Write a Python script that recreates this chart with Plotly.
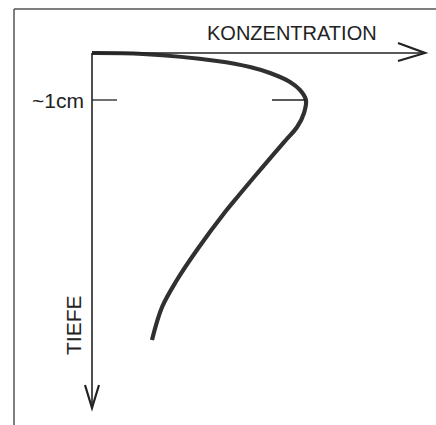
import plotly.graph_objects as go

# Data (concentration in relative units, depth in cm)
depth_cm = [0.0, 0.021, 0.170, 0.298, 0.426, 0.617, 0.787, 1.0, 1.277, 1.574, 1.851,
            2.170, 2.617, 3.021, 3.383, 4.191, 4.830, 5.404, 6.106]
concentration = [0.0, 0.237, 0.581, 0.735, 0.828, 0.921, 0.967, 0.995, 0.986, 0.954,
                 0.902, 0.842, 0.758, 0.684, 0.619, 0.488, 0.395, 0.326, 0.279]

x_label = "KONZENTRATION"
y_label = "TIEFE"
depth_mark_label = "~1cm"
depth_mark = 1.0

W, H = 436, 425
X0PX, XSCALE = 92, 215.0
Y0PX, YSCALE = 53, 47.0
x_range = [-X0PX / XSCALE, (W - X0PX) / XSCALE]
y_range = [(H - Y0PX) / YSCALE, -Y0PX / YSCALE]

ink = "#222222"
fig = go.Figure()

fig.add_trace(go.Scatter(x=concentration, y=depth_cm, mode="lines",
                         line=dict(color="#303030", width=4.2, shape="spline", smoothing=1.0),
                         hoverinfo="skip", showlegend=False))

x_tip = (425 - X0PX) / XSCALE
y_tip = (408 - Y0PX) / YSCALE
shapes = []
# axes
shapes.append(dict(type="line", xref="x", yref="y", x0=0, y0=0, x1=x_tip, y1=0,
                   line=dict(color=ink, width=1.6)))
shapes.append(dict(type="line", xref="x", yref="y", x0=0, y0=0, x1=0, y1=y_tip,
                   line=dict(color=ink, width=1.6)))
# arrowheads (open chevrons)
xw = (398 - X0PX) / XSCALE
shapes.append(dict(type="path", xref="x", yref="y",
                   path=f"M {xw},{-10/YSCALE} L {x_tip},0 L {xw},{8/YSCALE}",
                   line=dict(color=ink, width=2.2)))
yw = (385 - Y0PX) / YSCALE
shapes.append(dict(type="path", xref="x", yref="y",
                   path=f"M {-7/XSCALE},{yw} L 0,{y_tip} L {7/XSCALE},{yw}",
                   line=dict(color=ink, width=2.2)))
# 1 cm marks
shapes.append(dict(type="line", xref="x", yref="y", x0=0, y0=depth_mark, x1=25 / XSCALE, y1=depth_mark,
                   line=dict(color=ink, width=1.3)))
shapes.append(dict(type="line", xref="x", yref="y", x0=(272 - X0PX) / XSCALE, y0=depth_mark,
                   x1=max(concentration), y1=depth_mark, line=dict(color=ink, width=1.3)))
# frame
shapes.append(dict(type="line", xref="paper", yref="paper", x0=14 / W, y0=1 - 9 / H, x1=1, y1=1 - 9 / H,
                   line=dict(color="#555555", width=1.5)))
shapes.append(dict(type="line", xref="paper", yref="paper", x0=14 / W, y0=1 - 9 / H, x1=14 / W, y1=0,
                   line=dict(color="#555555", width=1.5)))

font = dict(family="Liberation Sans, Arial, sans-serif", color=ink)
annotations = [
    dict(x=(379 - X0PX) / XSCALE, y=(33 - Y0PX) / YSCALE, xref="x", yref="y", text=x_label,
         showarrow=False, xanchor="right", yanchor="middle", font=dict(size=20, **font)),
    dict(x=-6 / XSCALE, y=depth_mark, xref="x", yref="y", text=depth_mark_label,
         showarrow=False, xanchor="right", yanchor="middle", font=dict(size=21, **font)),
    dict(x=(73 - X0PX) / XSCALE, y=(325 - Y0PX) / YSCALE, xref="x", yref="y", text=y_label,
         showarrow=False, textangle=-90, xanchor="center", yanchor="middle",
         font=dict(size=21, **font)),
]

fig.update_layout(
    width=W, height=H, margin=dict(l=0, r=0, t=0, b=0),
    paper_bgcolor="white", plot_bgcolor="white",
    xaxis=dict(range=x_range, visible=False, fixedrange=True),
    yaxis=dict(range=y_range, visible=False, fixedrange=True),
    shapes=shapes, annotations=annotations, showlegend=False,
)

fig.write_html("out.html", config={"displayModeBar": False},
               post_script="document.body.style.margin='0';")
